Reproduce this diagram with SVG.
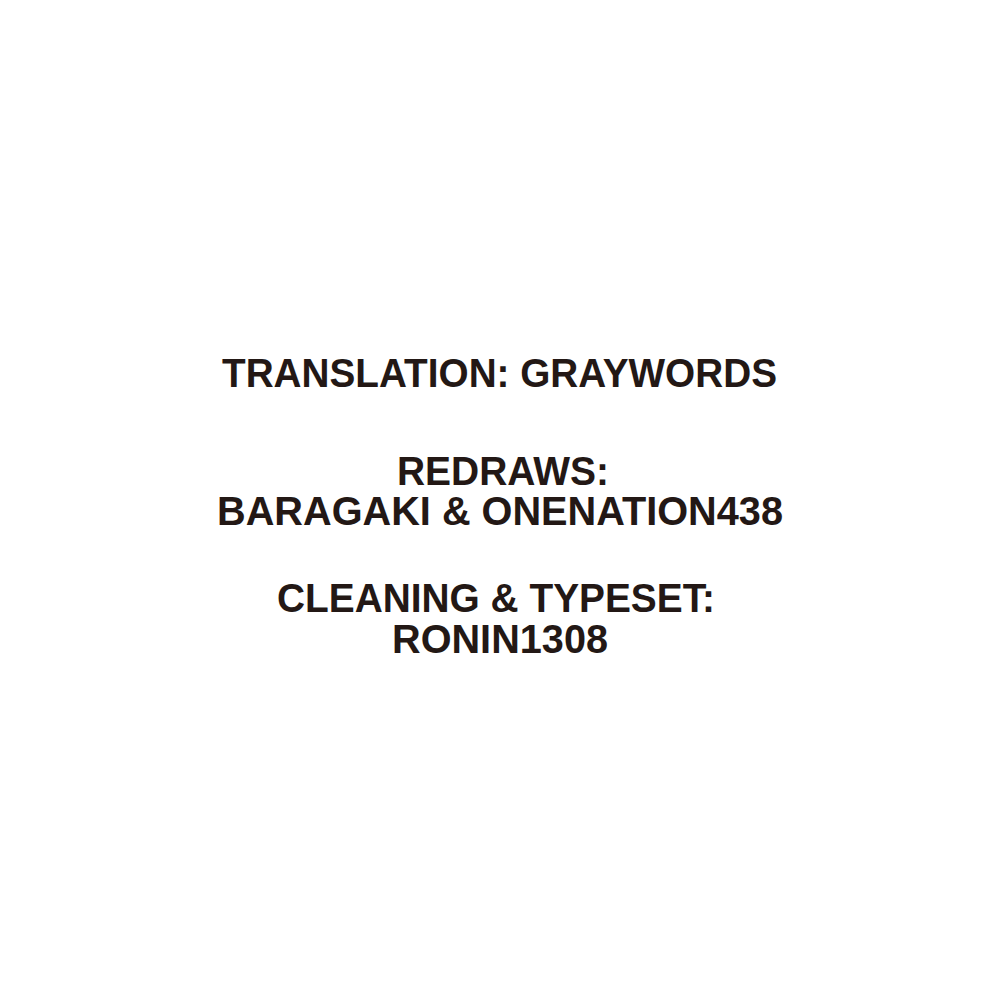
<svg xmlns="http://www.w3.org/2000/svg" width="1000" height="1000" viewBox="0 0 1000 1000">
<style>
.t{font-family:"Liberation Sans","Noto Sans",sans-serif;font-weight:bold;font-size:40px;fill:#231815;}
</style>
<rect width="1000" height="1000" fill="#ffffff"/>
<g id="credits">
<text class="t" x="222" y="387" textLength="555" lengthAdjust="spacingAndGlyphs">TRANSLATION: GRAYWORDS</text>
<text class="t" x="397" y="485" textLength="212" lengthAdjust="spacingAndGlyphs">REDRAWS:</text>
<text class="t" x="217" y="525" textLength="566" lengthAdjust="spacingAndGlyphs">BARAGAKI &amp; ONENATION438</text>
<text class="t" x="277" y="612" textLength="438" lengthAdjust="spacingAndGlyphs">CLEANING &amp; TYPESET:</text>
<text class="t" x="392" y="653" textLength="216" lengthAdjust="spacingAndGlyphs">RONIN1308</text>
</g>
</svg>
